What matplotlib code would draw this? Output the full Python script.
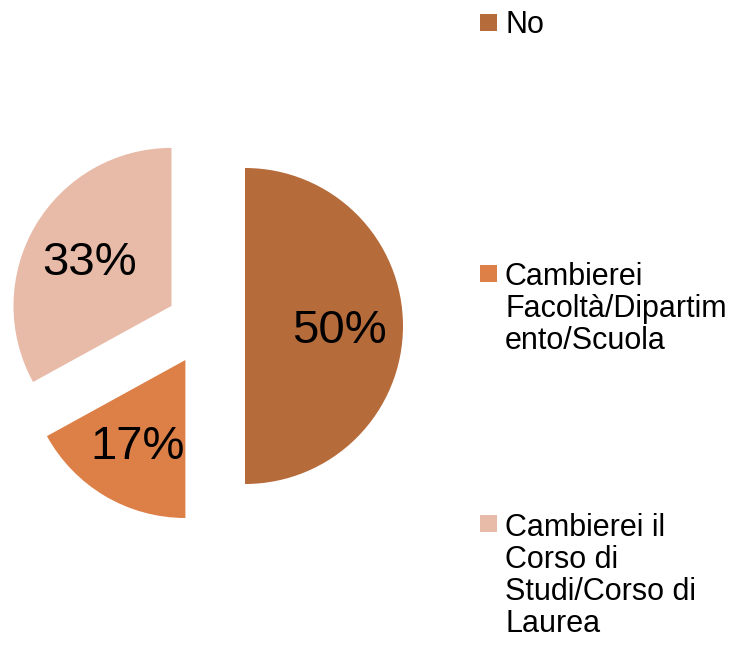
import matplotlib
matplotlib.use("Agg")
import matplotlib.pyplot as plt
from matplotlib.patches import Rectangle

plt.rcParams["font.family"] = ["Liberation Sans", "DejaVu Sans"]

# data
labels = ["No", "Cambierei\nFacoltà/Dipartim\nento/Scuola",
          "Cambierei il\nCorso di\nStudi/Corso di\nLaurea"]
shares = [50, 17, 33]
colors = ["#B66B3B", "#DD8047", "#E8BAA8"]

W, H = 741, 647
fig = plt.figure(figsize=(W / 100, H / 100), dpi=100)

# pie centre at (205.5, 326) px, radius 158 px
R = 158.0
cx, cy = 205.5, 326.0
ax_w = 420
ax = fig.add_axes([0, 0, ax_w / W, 1])
wedges, texts, autotexts = ax.pie(
    shares, colors=colors, startangle=90, counterclock=False,
    explode=[0.25] * len(shares), radius=1.0,
    autopct="%.0f%%", pctdistance=0.6,
    wedgeprops=dict(linewidth=0),
    textprops=dict(fontsize=34, color="black"))
for t in autotexts:
    t.set_va("center_baseline")
ax.set_xlim(-cx / R, (ax_w - cx) / R)
ax.set_ylim(-(H - cy) / R, cy / R)
ax.set_aspect("auto")
ax.axis("off")

# legend drawn by hand so the marker sits on the first line
marker_top = [14, 265, 515]
text_base = [33, 285, 536]
line_step = 32
for lab, col, mt, tb in zip(labels, colors, marker_top, text_base):
    fig.patches.append(Rectangle((480 / W, 1 - (mt + 17) / H), 17 / W, 17 / H,
                                 transform=fig.transFigure, color=col,
                                 linewidth=0))
    for i, line in enumerate(lab.split("\n")):
        fig.text(505 / W, 1 - (tb + i * line_step) / H, line, fontsize=22,
                 va="baseline", ha="left", color="black")

fig.savefig("out.png", dpi=100)
